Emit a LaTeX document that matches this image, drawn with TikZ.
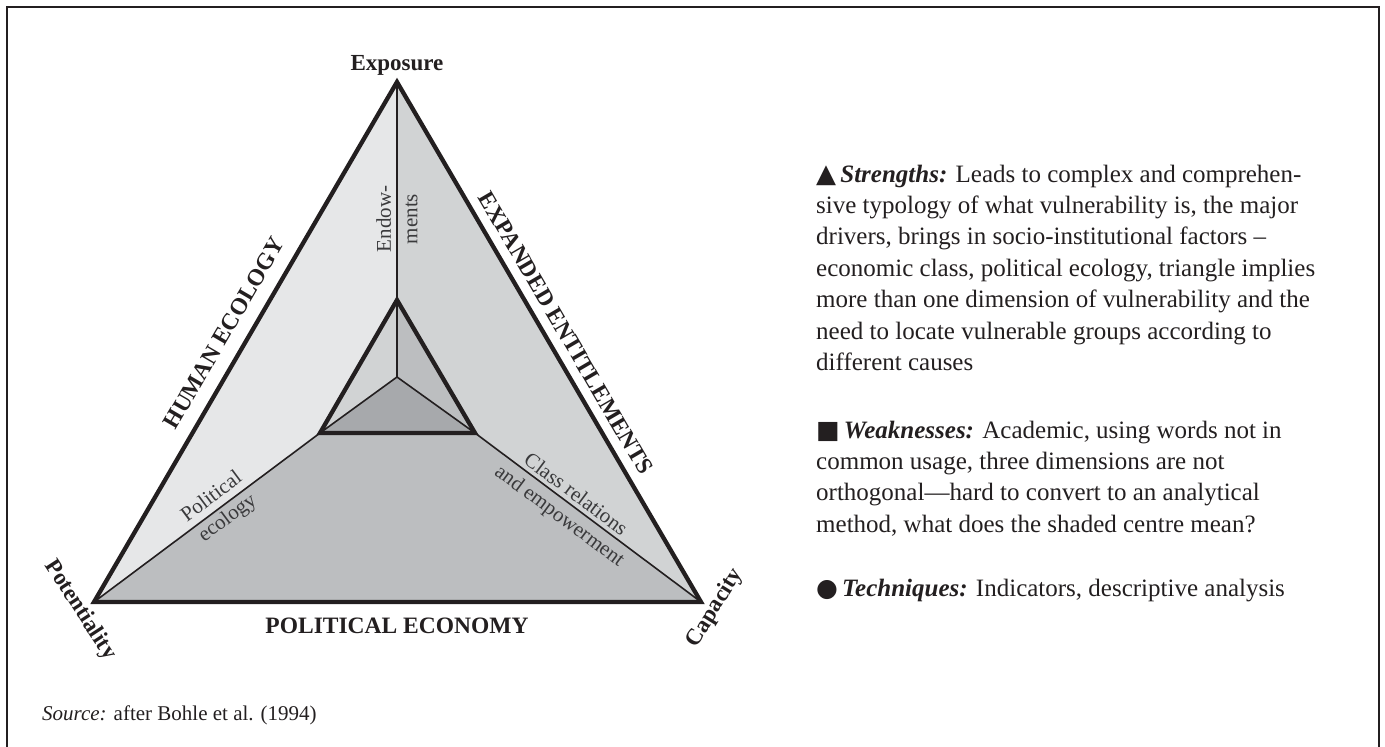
\documentclass[tikz,border=0pt]{standalone}
\usepackage{fontspec}
\setmainfont{Liberation Serif}
\newfontfamily\symfont{DejaVu Sans}
\definecolor{framecol}{HTML}{231F20}
\definecolor{shadeA}{HTML}{E6E7E8}
\definecolor{shadeB}{HTML}{D1D3D4}
\definecolor{shadeC}{HTML}{BCBEC0}
\definecolor{shadeD}{HTML}{A7A9AC}
\definecolor{labelgrey}{HTML}{3A3A3C}
\newcommand{\bulletsym}[2]{{\symfont\fontsize{#1}{#1}\selectfont\smash{#2}}}

\begin{document}
\begin{tikzpicture}[x=1pt,y=-1pt,
    thickedge/.style={line width=4.3pt,draw=framecol,line join=miter},
    thinedge/.style={line width=1.6pt,draw=framecol},
    cornerlabel/.style={font=\fontsize{23}{27}\selectfont\bfseries,text=framecol,inner sep=0pt},
    sidelabel/.style={font=\fontsize{23.5}{27}\selectfont\bfseries,text=framecol,inner sep=0pt},
    splitlabel/.style={font=\fontsize{21}{26.5}\selectfont,text=labelgrey,align=center,inner sep=0pt},
    notes/.style={font=\fontsize{25}{31.4}\selectfont,text=framecol,align=left,anchor=north west,inner sep=0pt}]
  \useasboundingbox (0,0) rectangle (1385,747);
  \draw[line width=2.3pt,draw=framecol] (7,747) -- (7,7) -- (1379,7) -- (1379,747);
  \coordinate (E) at (397,82);
  \coordinate (P) at (94,602);
  \coordinate (C) at (701,602);
  \coordinate (e) at (397,300);
  \coordinate (p) at (320,433);
  \coordinate (c) at (475,433);
  \coordinate (m) at (397,377);
  \fill[shadeA] (E) -- (e) -- (p) -- (P) -- cycle;
  \fill[shadeB] (E) -- (C) -- (c) -- (e) -- cycle;
  \fill[shadeC] (P) -- (p) -- (c) -- (C) -- cycle;
  \fill[shadeB] (e) -- (m) -- (p) -- cycle;
  \fill[shadeC] (e) -- (c) -- (m) -- cycle;
  \fill[shadeD] (m) -- (p) -- (c) -- cycle;
  \draw[thinedge] (E) -- (e) (p) -- (P) (c) -- (C) (e) -- (m) -- (p) (m) -- (c);
  \draw[thickedge] (E) -- (P) -- (C) -- cycle;
  \draw[thickedge] (e) -- (p) -- (c) -- cycle;
  \node[cornerlabel,anchor=base] (exposure) at (397,70) {Exposure};
  \node[cornerlabel,rotate=-57] (potentiality) at (80,610) {Potentiality};
  \node[cornerlabel,rotate=58] (capacity) at (715,608) {Capacity};
  \node[sidelabel,rotate=59.7] (humaneco) at (224,333) {HUMAN ECOLOGY};
  \node[sidelabel,rotate=-59.7] (entitle) at (566,333) {EXPANDED ENTITLEMENTS};
  \node[sidelabel,anchor=base] (poleco) at (397,633) {POLITICAL ECONOMY};
  \node[splitlabel,rotate=90] (endow) at (397,219) {Endow-\\ments};
  \node[splitlabel,rotate=36.7] (polecol) at (220,508) {Political\\ecology};
  \node[splitlabel,rotate=-36.7] (classrel) at (567,506) {Class relations\\and empowerment};
  \node[notes] (strengths) at (816,164.5) {\bulletsym{26}{▲}\,\textbf{\textit{Strengths:}} Leads to complex and comprehen-\\
    sive typology of what vulnerability is, the major\\
    drivers, brings in socio-institutional factors --\\
    economic class, political ecology, triangle implies\\
    more than one dimension of vulnerability and the\\
    need to locate vulnerable groups according to\\
    different causes};
  \node[notes] (weak) at (816,420.5) {\bulletsym{25}{■}\,\textbf{\textit{Weaknesses:}} Academic, using words not in\\
    common usage, three dimensions are not\\
    orthogonal---hard to convert to an analytical\\
    method, what does the shaded centre mean?};
  \node[notes] (tech) at (816,578.5) {\bulletsym{25}{●}\,\textbf{\textit{Techniques:}} Indicators, descriptive analysis};
  \node[anchor=base west,inner sep=0pt,font=\fontsize{21}{24}\selectfont,text=framecol] (source) at (42,720) {\textit{Source:} after Bohle et al. (1994)};
\end{tikzpicture}
\end{document}
